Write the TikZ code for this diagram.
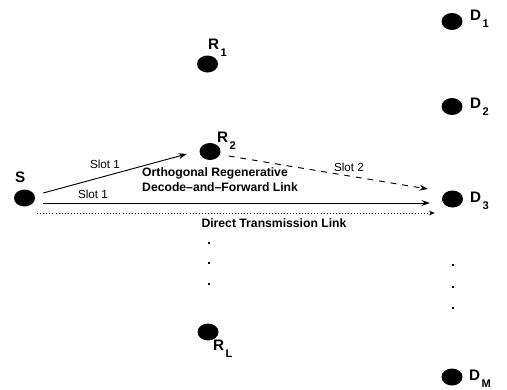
\documentclass[tikz,border=0pt]{standalone}
\usepackage{fontspec}
\setmainfont{Liberation Sans}
\usetikzlibrary{arrows.meta,shapes.geometric}

\newcommand{\lowsub}[1]{\kern1.2pt\raisebox{-6.5pt}{\fontsize{9.5}{11}\selectfont #1}}

\tikzset{
  station/.style={ellipse, fill=black, minimum width=0.63cm, minimum height=0.51cm, inner sep=0pt},
  namelbl/.style={font=\fontsize{13}{15}\selectfont\bfseries, inner sep=0pt, anchor=base west},
  slot/.style={font=\fontsize{10}{12}\selectfont, inner sep=0pt},
  linkname/.style={font=\fontsize{10.4}{12.8}\selectfont\bfseries, inner sep=0pt, align=left},
  vdot/.style={rectangle, fill=black, minimum size=0.06cm, inner sep=0pt},
  link/.style={-{Stealth[length=7pt,width=5pt]}, line width=0.8pt},
}

\begin{document}
\begin{tikzpicture}[x=0.03cm, y=-0.03cm]
    \useasboundingbox (0,0) rectangle (507,389);

    % source, relays, destinations
    \node[station] (s) at (24.5,198) {};
    \node[station] (r1) at (207.5,64) {};
    \node[station] (r2) at (210,151.5) {};
    \node[station] (rl) at (208,332) {};
    \node[station] (d1) at (452,21.5) {};
    \node[station] (d2) at (452,106.5) {};
    \node[station] (d3) at (452.5,199) {};
    \node[station] (dm) at (452,377) {};

    \node[namelbl] (slbl) at (15,182) {S};
    \node[namelbl] (r1lbl) at (208,49) {R\lowsub{1}};
    \node[namelbl] (r2lbl) at (217,142) {R\lowsub{2}};
    \node[namelbl] (rllbl) at (213,350) {R\lowsub{L}};
    \node[namelbl] (d1lbl) at (470,20) {D\lowsub{1}};
    \node[namelbl] (d2lbl) at (470,108) {D\lowsub{2}};
    \node[namelbl] (d3lbl) at (470,202) {D\lowsub{3}};
    \node[namelbl] (dmlbl) at (469,380) {D\lowsub{M}};

    % vertical dots
    \foreach \y/\n in {243/1,263/2,284/3}
        \node[vdot] (rdot\n) at (209,\y) {};
    \foreach \y/\n in {265/1,287/2,308/3}
        \node[vdot] (ddot\n) at (453,\y) {};

    % links
    \draw[link] ([shift={(8,-5)}]s.east) -- ([shift={(-12.5,2.5)}]r2.west);
    \draw[link, dash pattern=on 5pt off 5pt] ([shift={(8,4.5)}]r2.east) -- ([shift={(-14,-10)}]d3.west);
    \draw[link] ([shift={(8,5)}]s.east) -- ([shift={(-12,4)}]d3.west);
    \draw[-{Stealth[length=5pt,width=4pt]}, dotted, line width=0.6pt] ([shift={(2,15)}]s.east) -- ([shift={(-7,14)}]d3.west);

    \node[slot] (slot1a) at (105,164) {Slot 1};
    \node[slot] (slot1b) at (93,194) {Slot 1};
    \node[slot] (slot2) at (349,167) {Slot 2};
    \node[linkname, anchor=north west] (odf) at (142,167.5) {Orthogonal Regenerative\\Decode--and--Forward Link};
    \node[linkname] (dtl) at (274,223.5) {Direct Transmission Link};
\end{tikzpicture}
\end{document}
